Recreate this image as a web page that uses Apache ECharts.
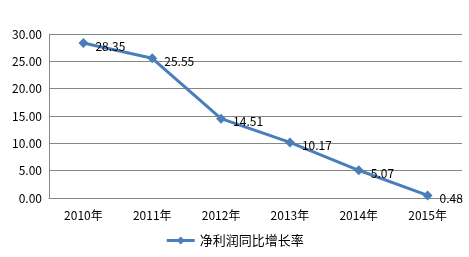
<!DOCTYPE html>
<html><head><meta charset="utf-8">
<script src="https://cdn.jsdelivr.net/npm/echarts@6/dist/echarts.min.js"></script>
<style>html,body{margin:0;padding:0;background:#fff}#c{width:469px;height:257px}</style>
</head><body><div id="c"></div>
<script>
var categories = ['2010年','2011年','2012年','2013年','2014年','2015年'];
var values = [28.35, 25.55, 14.51, 10.17, 5.07, 0.48];
var seriesName = '净利润同比增长率';
var font = '"Microsoft YaHei","Noto Sans CJK SC",sans-serif';
var chart = echarts.init(document.getElementById('c'));
chart.setOption({
  animation: false,
  grid: {left: 49, top: 34, right: 7, bottom: 59},
  xAxis: {
    type: 'category', data: categories, boundaryGap: true,
    axisLine: {lineStyle: {color: '#868686'}},
    axisTick: {show: false},
    axisLabel: {color: '#000', fontSize: 12, fontFamily: font, margin: 11}
  },
  yAxis: {
    type: 'value', min: 0, max: 30, interval: 5,
    axisLine: {show: true, lineStyle: {color: '#868686'}},
    axisTick: {show: false},
    splitLine: {lineStyle: {color: '#868686'}},
    axisLabel: {color: '#000', fontSize: 12, fontFamily: font, margin: 7,
      formatter: function(v){return v.toFixed(2);}}
  },
  legend: {
    bottom: 5, left: 'center', itemWidth: 28, itemHeight: 10, itemGap: 3,
    lineStyle: {width: 3},
    textStyle: {color: '#000', fontSize: 13, fontFamily: font},
    data: [seriesName]
  },
  series: [{
    name: seriesName, type: 'line', data: values,
    symbol: 'diamond', symbolSize: 10,
    lineStyle: {color: '#4a7ebb', width: 3},
    itemStyle: {color: '#4a7ebb'},
    label: {show: true, position: 'right', distance: 7, offset: [0, 3], color: '#000', fontSize: 12, fontFamily: font,
      formatter: function(p){return p.value.toFixed(2);}}
  }]
});
</script></body></html>
